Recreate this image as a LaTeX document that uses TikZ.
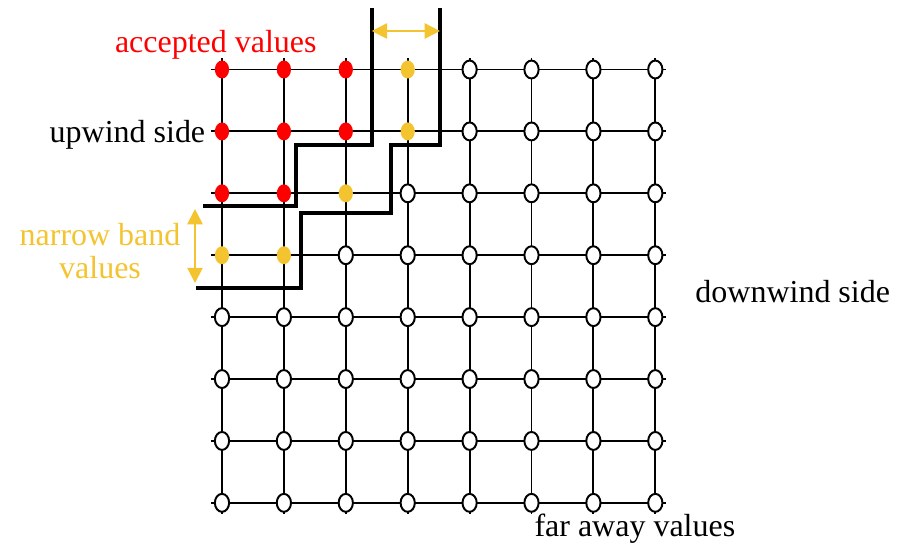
\documentclass[tikz,border=0pt]{standalone}
\usepackage{fontspec}
\setmainfont{Liberation Serif}
\usepackage{tikz}
\usetikzlibrary{arrows.meta,shapes.geometric}
\definecolor{AcceptRed}{HTML}{FF0000}
\definecolor{BandGold}{HTML}{F4C430}

\begin{document}
\begin{tikzpicture}[
    gp/.style={ellipse,minimum width=0.23cm,minimum height=0.29cm,inner sep=0pt},
    far/.style={gp,draw=black,fill=white,line width=0.9pt},
    accepted/.style={gp,fill=AcceptRed},
    band/.style={gp,fill=BandGold},
    front/.style={line width=1.7pt},
    bandarrow/.style={BandGold,line width=0.9pt,
      {Triangle[length=7pt,width=7pt]}-{Triangle[length=7pt,width=7pt]}},
    lab/.style={inner sep=0pt,font=\fontsize{14.7}{15.2}\selectfont}]
  \useasboundingbox (-3.586,1.123) rectangle (11.195,-7.730);
  % grid lines
  \foreach \k in {0,...,7} {
    \draw[line width=0.9pt] (-0.18,-\k) -- (7.18,-\k);
    \draw[line width=0.9pt] (\k,0.18) -- (\k,-7.18);
  }
  % grid points: row / last accepted column / last band column
  \foreach \j/\r/\y in {0/2/3,1/2/3,2/1/2,3/-1/1,4/-1/-1,5/-1/-1,6/-1/-1,7/-1/-1}
    \foreach \i in {0,...,7} {
      \ifnum\i>\y \def\kind{far}\else\ifnum\i>\r \def\kind{band}\else\def\kind{accepted}\fi\fi
      \node[\kind] (p-\i-\j) at (\i,-\j) {};
    }
  % the two fronts of the narrow band
  \draw[front] (2.423,0.994) |- (1.195,-1.220) |- (-0.307,-2.205);
  \draw[front] (3.522,0.994) |- (2.730,-1.220) |- (1.276,-2.318) |- (-0.420,-3.530);
  \coordinate (wl) at (2.42,0.622);
  \coordinate (wr) at (3.52,0.622);
  \draw[bandarrow] (wl) -- (wr);
  \coordinate (bt) at (-0.436,-2.254);
  \coordinate (bb) at (-0.436,-3.449);
  \draw[bandarrow] (bt) -- (bb);
  % labels
  \node[lab,text=AcceptRed] (acc) at (-0.1,0.40) {accepted values};
  \node[lab] (up) at (-1.527,-1.06) {upwind side};
  \node[lab,text=BandGold,align=center] (nb) at (-1.97,-2.93) {narrow band\\values};
  \node[lab] (down) at (9.22,-3.58) {downwind side};
  \node[lab] (faraway) at (6.67,-7.41) {far away values};
\end{tikzpicture}
\end{document}
